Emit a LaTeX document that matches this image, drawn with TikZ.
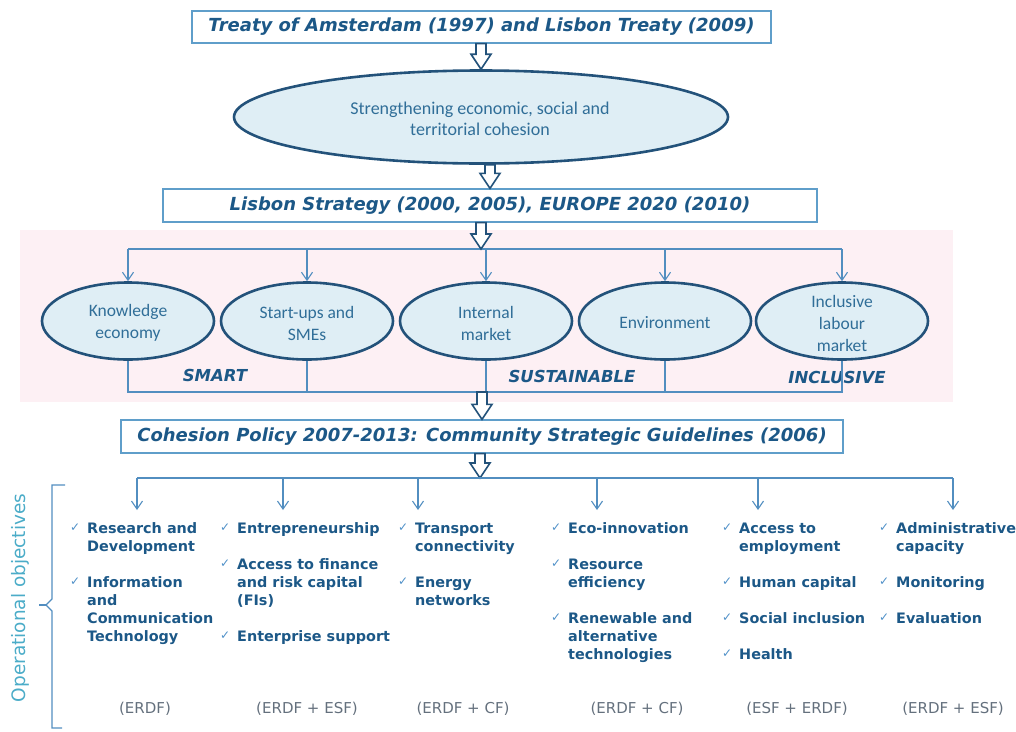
\documentclass[tikz,border=0pt]{standalone}
\usepackage{fontspec}
\setmainfont{DejaVu Sans}
\newfontfamily\calibri{Carlito}
\usetikzlibrary{shapes,arrows.meta,calc}

\definecolor{TitleBlue}{RGB}{28,88,135}
\definecolor{LineBlue}{RGB}{82,142,192}
\definecolor{BoxBlue}{RGB}{95,158,202}
\definecolor{EllBorder}{RGB}{35,82,122}
\definecolor{EllFill}{RGB}{223,238,245}
\definecolor{EllText}{RGB}{48,110,152}
\definecolor{Band}{RGB}{253,240,244}
\definecolor{CheckBlue}{RGB}{80,145,200}
\definecolor{FundGray}{RGB}{100,112,125}
\definecolor{SideBlue}{RGB}{75,172,200}

\begin{document}
\begin{tikzpicture}[x=1pt,y=-1pt]
			\tikzstyle{Title}	= [draw=BoxBlue, line width=1.3pt, fill=white, inner sep=0pt, text=TitleBlue, font=\fontsize{18}{22}\selectfont\bfseries\itshape]
			\tikzstyle{Goal}	= [ellipse, draw=EllBorder, line width=2.6pt, fill=EllFill, inner sep=0pt]
			\tikzstyle{GoalText}	= [align=center, text=EllText, font=\calibri\fontsize{17.5}{22}\selectfont]
			\tikzstyle{Hollow}	= [draw=EllBorder, line width=1.6pt, fill=white, line join=miter]
			\tikzstyle{Link}	= [draw=LineBlue, line width=1.1pt]
			\tikzstyle{Tip}		= [-{Straight Barb[length=8pt,width=11pt]}]
			\tikzstyle{Pillar}	= [text=TitleBlue, font=\fontsize{16.5}{20}\selectfont\bfseries\itshape]
			\tikzstyle{Item}	= [anchor=north west, align=left, inner sep=0pt, text=TitleBlue, font=\fontsize{14.4}{18}\selectfont\bfseries]
			\tikzstyle{Check}	= [anchor=base west, inner sep=0pt, text=CheckBlue, font=\fontsize{12}{14}\selectfont]
			\tikzstyle{Fund}	= [anchor=base, inner sep=0pt, text=FundGray, font=\fontsize{15}{18}\selectfont]
			
			\useasboundingbox (0,0) rectangle (1016,731);
			\fill[Band] (20,230) rectangle (953,402);
			
			\node (treaty) at (481.5,27) [Title, minimum width=579, minimum height=32] {Treaty of Amsterdam (1997) and Lisbon Treaty (2009)};
			\node (strong) at (481,117) [Goal, minimum width=494, minimum height=93] {};
			\node (strong-txt) at (480,119) [GoalText, font=\calibri\fontsize{18}{21}\selectfont] {Strengthening economic, social and\\territorial cohesion};
			\node (lisbon) at (490,205.5) [Title, minimum width=654, minimum height=33] {Lisbon Strategy (2000, 2005), EUROPE 2020 (2010)};
			\node (cohesion) at (482,436.5) [Title, minimum width=722, minimum height=33] {Cohesion Policy 2007-2013: Community Strategic Guidelines (2006)};
			
			\coordinate (split) at (481,249);
			\coordinate (merge) at (479,392);
			\coordinate (ops) at (480,478);
			
			\foreach \n/\x/\t in {k1/128/{Knowledge\\economy}, k2/307/{Start-ups and\\SMEs}, k3/486/{Internal\\market}, k4/665/{Environment}, k5/842/{Inclusive\\labour\\market}}
			{
				\node (\n) at (\x,321) [Goal, minimum width=172, minimum height=77] {};
				\node (\n-txt) at (\x,323) [GoalText] {\t};
			}
			
			\node (smart) at (215,375) [Pillar] {SMART};
			\node (sust) at (572,376) [Pillar] {SUSTAINABLE};
			\node (incl) at (837,377) [Pillar] {INCLUSIVE};
			
			\draw [Link] (k1.north |- split) -- (k5.north |- split);
			\foreach \n in {k1,k2,k3,k4,k5}
				\draw [Link][Tip] (\n.north |- split) -- (\n.north);
			\draw [Link] (k1.south) -- (k1.south |- merge) -- (k5.south |- merge) -- (k5.south);
			\foreach \n in {k2,k3,k4}
				\draw [Link] (\n.south) -- (\n.south |- merge);
			
			\foreach \a/\b in {treaty.south/strong.north, strong.south/lisbon.north, lisbon.south/split, merge/cohesion.north, cohesion.south/ops}
				\draw [Hollow] ($(\a -| \b)+(-5,0)$) -- ($(\b)+(-5,-15)$) -- ($(\b)+(-10,-15)$) -- (\b) -- ($(\b)+(10,-15)$) -- ($(\b)+(5,-15)$) -- ($(\a -| \b)+(5,0)$) -- cycle;
			
			\foreach \i/\x in {1/137, 2/283, 3/418, 4/597, 5/758, 6/953}
				\coordinate (o\i) at (\x,510);
			\draw [Link] (o1 |- ops) -- (o6 |- ops);
			\foreach \i in {1,...,6}
				\draw [Link][Tip] (o\i |- ops) -- (o\i);
			
			\foreach \x/\y/\t in {87/533/{Research and\\Development}, 87/587/{Information\\and\\Communication\\Technology},
				237/533/{Entrepreneurship}, 237/569/{Access to finance\\and risk capital\\(FIs)}, 237/641/{Enterprise support},
				415/533/{Transport\\connectivity}, 415/587/{Energy\\networks},
				568/533/{Eco-innovation}, 568/569/{Resource\\efficiency}, 568/623/{Renewable and\\alternative\\technologies},
				739/533/{Access to\\employment}, 739/587/{Human capital}, 739/623/{Social inclusion}, 739/659/{Health},
				896/533/{Administrative\\capacity}, 896/587/{Monitoring}, 896/623/{Evaluation}}
			{
				\node at (\x-17,\y-2) [Check] {✓};
				\node at (\x,\y-12.6) [Item] {\strut\t};
			}
			
			\foreach \x/\t in {145/{(ERDF)}, 307/{(ERDF + ESF)}, 463/{(ERDF + CF)}, 637/{(ERDF + CF)}, 797/{(ESF + ERDF)}, 953/{(ERDF + ESF)}}
				\node at (\x,713) [Fund] {\t};
			
			\draw [Link] (65,485) -- (52,485) -- (52,599) -- (46,605) -- (52,611) -- (52,728) -- (62,728);
			\draw [Link] (46,605) -- (39,605);
			\node (side) at (20,598) [rotate=90, text=SideBlue, font=\fontsize{18.5}{22}\selectfont] {Operational objectives};
		\end{tikzpicture}
\end{document}
